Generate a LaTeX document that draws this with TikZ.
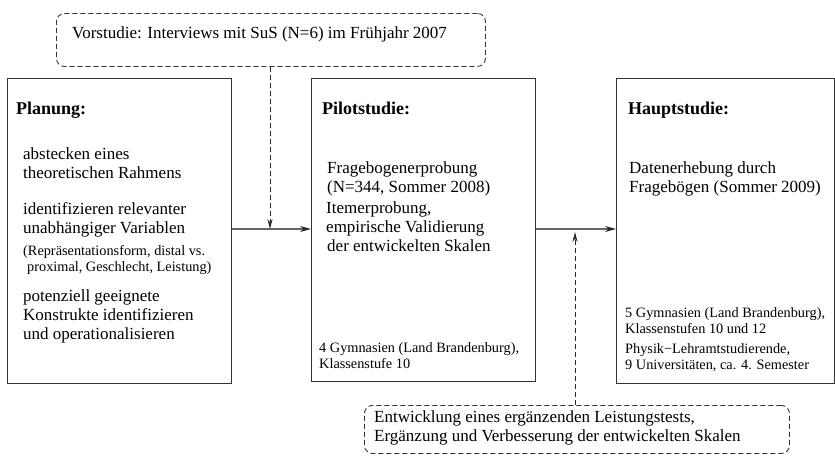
\documentclass[tikz,border=0pt]{standalone}
\usepackage{fontspec}
\setmainfont{Liberation Serif}
\usetikzlibrary{arrows.meta}
\begin{document}
\begin{tikzpicture}[x=1pt,y=-1pt,
  frame/.style={draw=black!80, line width=1.1pt, inner sep=0pt, anchor=north west},
  note/.style={draw=black!80, line width=0.9pt, dash pattern=on 5pt off 3pt,
    rounded corners=8pt, inner sep=0pt, anchor=north west},
  % multi-line texts are placed by the baseline of their last line
  body/.style={anchor=base west, inner sep=0pt, align=left,
    font=\fontsize{17}{19}\selectfont},
  small/.style={anchor=base west, inner sep=0pt, align=left,
    font=\fontsize{14.3}{16}\selectfont},
  head/.style={anchor=base west, inner sep=0pt,
    font=\fontsize{18}{20}\selectfont\bfseries},
  flow/.style={draw=black!60, line width=1.3pt,
    -{Stealth[length=11pt,width=6pt,color=black!85]}},
  hint/.style={draw=black!85, line width=0.9pt, dash pattern=on 5pt off 3pt,
    -{Stealth[length=10pt,width=5pt]}},
]
\useasboundingbox (0,0) rectangle (835,455);

% main phase boxes
\node[frame, minimum width=224pt, minimum height=305pt] (plan) at (7,78) {};
\node[frame, minimum width=224pt, minimum height=303pt] (pilot) at (311,78) {};
\node[frame, minimum width=218pt, minimum height=305pt] (haupt) at (616,78) {};

% side notes
\node[note, minimum width=429pt, minimum height=53pt] (vor) at (56,13) {};
\node[note, minimum width=425pt, minimum height=48pt] (entw) at (364,405) {};

% Planung
\node[head] (planH) at (16,114) {Planung:};
\node[body] (planA) at (23,178) {abstecken eines\\theoretischen Rahmens};
\node[body] (planB) at (23,233) {identifizieren relevanter\\unabhängiger Variablen};
\node[small] (planC) at (23,271) {(Repräsentationsform, distal vs.\\\hspace*{4pt}proximal, Geschlecht, Leistung)};
\node[body] (planD) at (23,339) {potenziell geeignete\\Konstrukte identifizieren\\und operationalisieren};

% Pilotstudie
\node[head] (pilotH) at (322,114) {Pilotstudie:};
\node[body] (pilotA) at (327,192) {Fragebogenerprobung\\(N=344, Sommer 2008)};
\node[body] (pilotB) at (326,251) {Itemerprobung,\\empirische Validierung\\\hspace*{1pt}der entwickelten Skalen};
\node[small] (pilotC) at (319,368) {4 Gymnasien (Land Brandenburg),\\Klassenstufe 10};

% Hauptstudie
\node[head] (hauptH) at (628,114) {Hauptstudie:};
\node[body] (hauptA) at (629,192) {Datenerhebung durch\\Fragebögen (Sommer 2009)};
\node[small] (hauptB) at (625,333) {5 Gymnasien (Land Brandenburg),\\Klassenstufen 10 und 12};
\node[small] (hauptC) at (625,369) {Physik−Lehramtstudierende,\\9 Universitäten, ca. 4. Semester};

% note texts
\node[body] (vorT) at (72,38) {Vorstudie: Interviews mit SuS (N=6) im Frühjahr 2007};
\node[body] (entwT) at (374,441) {Entwicklung eines ergänzenden Leistungstests,\\Ergänzung und Verbesserung der entwickelten Skalen};

% connectors
\coordinate (row) at (0,229);
\coordinate (inA) at (270,229);
\coordinate (inB) at (575,232);
\draw[flow] (plan.east |- row) -- (pilot.west |- row);
\draw[flow] (pilot.east |- row) -- (haupt.west |- row);
\draw[hint] (vor.south -| inA) -- (inA);
\draw[hint] (entw.north -| inB) -- (inB);
\end{tikzpicture}
\end{document}
